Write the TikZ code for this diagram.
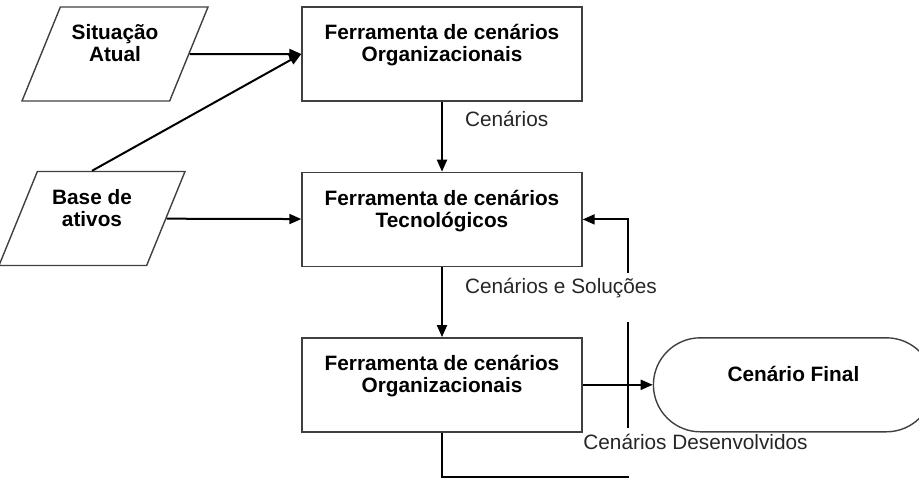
\documentclass[tikz,border=0pt]{standalone}
\usepackage{fontspec}
\setmainfont{Liberation Sans}
\usetikzlibrary{arrows.meta,positioning,shapes.geometric,shapes.misc}

\begin{document}
\begin{tikzpicture}[
  x=0.5pt, y=-0.5pt,
  font=\fontsize{10.4pt}{11pt}\selectfont,
  node distance=35pt,
  tool/.style={draw=black!75, line width=0.7pt, minimum width=140pt, minimum height=47pt,
    inner sep=0pt, align=center, font=\fontsize{10.4pt}{11pt}\selectfont\bfseries},
  data/.style={trapezium, trapezium left angle=57, trapezium right angle=123,
    trapezium stretches body, draw=black!75, line width=0.7pt,
    minimum width=93pt, minimum height=47pt,
    inner sep=0pt, align=center, font=\fontsize{10.4pt}{11pt}\selectfont\bfseries},
  term/.style={rounded rectangle, draw=black!75, line width=0.7pt, minimum width=140pt,
    minimum height=47pt, inner sep=0pt, align=center, font=\fontsize{10.4pt}{11pt}\selectfont\bfseries},
  flow/.style={-{Triangle[length=6pt,width=5pt]}, line width=1pt},
  link/.style={line width=1pt},
  note/.style={text=black!85, anchor=west, inner sep=0pt}
]
\useasboundingbox (0,0) rectangle (919,488);

\node[tool] (orgA) at (442,54) {Ferramenta de cenários\\Organizacionais\\\mbox{}};
\node[tool, below=of orgA] (tec) {Ferramenta de cenários\\Tecnológicos\\\mbox{}};
\node[tool, below=of tec] (orgB) {Ferramenta de cenários\\Organizacionais\\\mbox{}};
\node[term, right=35pt of orgB] (final) {Cenário Final\\\mbox{}};

\node[data] (atual) at (115,54) {Situação\\Atual\\\mbox{}};
\node[data] (base) at (92,218.5) {Base de\\ativos\\\mbox{}};

\draw[flow] (atual) -- (orgA.west);
\draw[flow] (base.north) -- (orgA.west);
\draw[flow] (base) -- (tec);
\draw[flow] (orgA) -- node[note, pos=0.25, right=11pt] {Cenários} (tec);
\draw[flow] (tec) -- node[note, pos=0.3, right=11pt] {Cenários e Soluções} (orgB);
\draw[flow] (orgB) -- (final);

% laco de volta (interrompido pelos rotulos)
\coordinate (devA) at (629,477);
\coordinate (devB) at (628,428);
\coordinate (devC) at (628,322);
\coordinate (devD) at (628,273);
\draw[link] (orgB.south) |- (devA);
\draw[link] (devB) -- (devC);
\draw[flow] (devD) |- (tec.east);
\node[note] (desenv) at (583,442) {Cenários Desenvolvidos};
\end{tikzpicture}
\end{document}
